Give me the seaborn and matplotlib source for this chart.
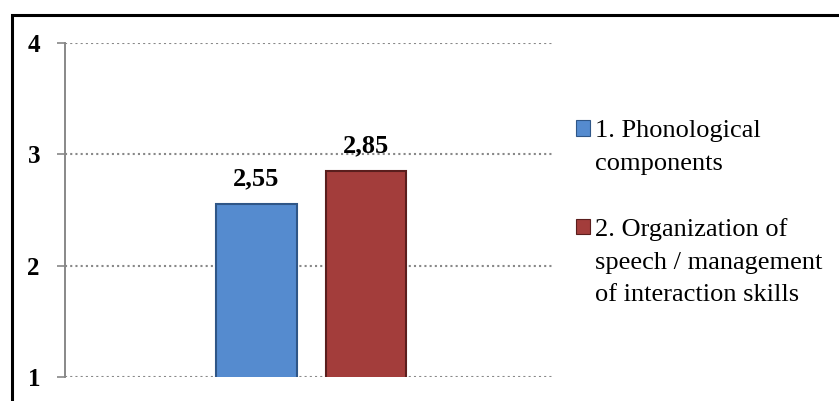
import matplotlib.pyplot as plt
import matplotlib.patches as mpatches
import pandas as pd
import seaborn as sns

# Data
skills = ["1. Phonological\ncomponents",
          "2. Organization of\nspeech / management\nof interaction skills"]
scores = [2.55, 2.85]
bar_colors = ["#558BCF", "#A33D3B"]
edge_colors = ["#2F5687", "#5A1E1D"]
y_ticks = [1, 2, 3, 4]

df = pd.DataFrame({"group": [""] * len(skills), "skill": skills, "score": scores})

sns.set_style("white")
plt.rcParams["font.family"] = ["Liberation Serif", "DejaVu Serif"]
plt.rcParams["text.color"] = "black"

fig = plt.figure(figsize=(8.39, 4.01), dpi=100)
ax = fig.add_axes([65 / 839, 1 - 377 / 401, 488 / 839, 334 / 401])

sns.barplot(data=df, x="group", y="score", hue="skill", hue_order=skills,
            palette=bar_colors, saturation=1, width=0.8, gap=0.265,
            legend=False, ax=ax, zorder=3)

# bar edges and value labels
for cont, ec, val in zip(ax.containers, edge_colors, scores):
    for bar in cont:
        bar.set_edgecolor(ec)
        bar.set_linewidth(1.5)
    ax.bar_label(cont, labels=[f"{val:.2f}".replace(".", ",")], padding=10,
                 fontsize=19, fontweight="bold", color="black")

ax.set_ylim(1, 4)
ax.set_xlim(-0.8995, 0.883)
ax.set_yticks(y_ticks)
ax.set_yticklabels([str(t) for t in y_ticks], fontsize=18, fontweight="bold")
ax.set_xticks([])
ax.set_xlabel("")
ax.set_ylabel("")

ax.yaxis.grid(True, color="#888888", linestyle=(0, (1, 1.5)), linewidth=1.5)
ax.set_axisbelow(True)
ax.tick_params(axis="y", length=6, width=1.2, color="#888888", pad=12,
               left=True, labelcolor="black")
for side in ["top", "right", "bottom"]:
    ax.spines[side].set_visible(False)
ax.spines["left"].set_color("#888888")
ax.spines["left"].set_linewidth(1.4)

# legend: one row per text line, handle beside the first line
handles, labels = [], []
for i, (skill, col) in enumerate(zip(skills, bar_colors)):
    lines = skill.split("\n")
    for j, line in enumerate(lines):
        if j == 0:
            handles.append(mpatches.Patch(facecolor=col, edgecolor=edge_colors[i], linewidth=0.8))
        else:
            handles.append(mpatches.Patch(facecolor="none", edgecolor="none"))
        labels.append(line)
    if i < len(skills) - 1:
        handles.append(mpatches.Patch(facecolor="none", edgecolor="none"))
        labels.append("")

fig.legend(handles, labels, loc="upper left",
           bbox_to_anchor=(576 / 839, 1 - 120 / 401),
           frameon=False, fontsize=19, borderpad=0, borderaxespad=0,
           handlelength=0.53, handleheight=0.53, handletextpad=0.2,
           labelspacing=0.4, labelcolor="black")

# outer chart frame
frame = mpatches.Rectangle((12 / 839, -0.2), 1.2, 1.2 - 15 / 401,
                           transform=fig.transFigure, fill=False,
                           edgecolor="black", linewidth=2.2, zorder=10)
fig.add_artist(frame)

fig.savefig("out.png", dpi=100)
